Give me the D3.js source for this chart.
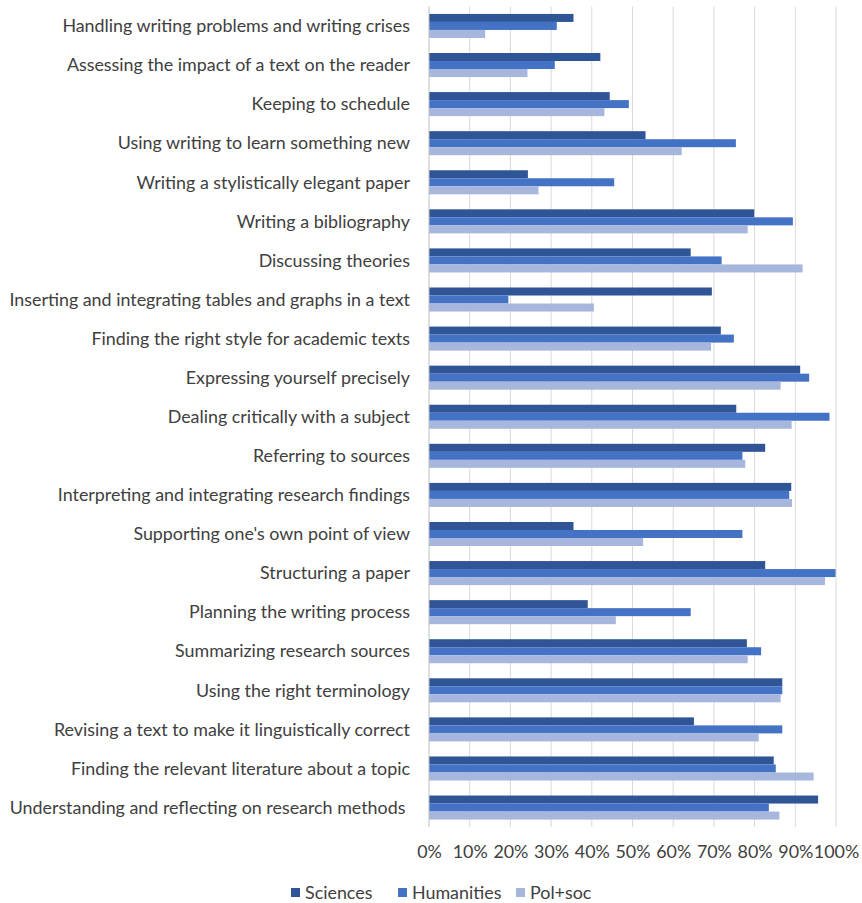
<!DOCTYPE html>
<html><head><meta charset="utf-8">
<script src="https://cdn.jsdelivr.net/npm/d3@7"></script>
<style>
body{margin:0;background:#fff;}
text{font-family:"Lato",sans-serif;}
</style></head>
<body><svg id="c" width="862" height="903"></svg>
<script>
const categories = [
"Handling writing problems and writing crises",
"Assessing the impact of a text on the reader",
"Keeping to schedule",
"Using writing to learn something new",
"Writing a stylistically elegant paper",
"Writing a bibliography",
"Discussing theories",
"Inserting and integrating tables and graphs in a text",
"Finding the right style for academic texts",
"Expressing yourself precisely",
"Dealing critically with a subject",
"Referring to sources",
"Interpreting and integrating research findings",
"Supporting one's own point of view",
"Structuring a paper",
"Planning the writing process",
"Summarizing research sources",
"Using the right terminology",
"Revising a text to make it linguistically correct",
"Finding the relevant literature about a topic",
"Understanding and reflecting on research methods "
];
const seriesNames = ["Sciences","Humanities","Pol+soc"];
const sciences   = [35.5,42.1,44.4,53.2,24.3,79.9,64.3,69.5,71.7,91.2,75.5,82.6,89.0,35.5,82.6,39.0,78.1,86.8,65.1,84.7,95.6];
const humanities = [31.4,30.9,49.1,75.4,45.5,89.4,71.9,19.5,74.9,93.4,98.4,77.0,88.5,77.0,99.9,64.3,81.6,86.8,86.8,85.2,83.5];
const polsoc     = [13.8,24.2,43.1,62.1,26.9,78.3,91.8,40.5,69.3,86.4,89.1,77.7,89.2,52.6,97.3,45.9,78.3,86.4,81.0,94.5,86.1];
const tickValues = [0,10,20,30,40,50,60,70,80,90,100];
const colors = ["#2F5597","#4472C4","#A7B6DD"];

const seriesVals = [sciences, humanities, polsoc];
const svg = d3.select("#c");
const pL = 429, pR = 836, pT = 6.5, pB = 827;

// find a font size so the first label spans ~348px like the reference
const probe = svg.append("text").attr("font-size",16).text(categories[0]);
const w16 = probe.node().getComputedTextLength();
probe.remove();
const fs = 16*348/w16;

const x = d3.scaleLinear().domain([0,100]).range([pL,pR]);
const y = d3.scaleBand().domain(categories).range([pT,pB]).paddingInner(0.385).paddingOuter(0.19);
const inner = d3.scaleBand().domain(seriesNames).range([0,y.bandwidth()]);

// gridlines
svg.append("g").selectAll("line").data(tickValues.slice(1)).join("line")
  .attr("x1",d=>x(d)).attr("x2",d=>x(d)).attr("y1",pT).attr("y2",pB)
  .attr("stroke","#D9D9D9").attr("stroke-width",1);

// bars
categories.forEach((c,i)=>{
  seriesNames.forEach((s,j)=>{
    svg.append("rect")
      .attr("x",x(0)).attr("y",y(c)+inner(s))
      .attr("width",x(seriesVals[j][i])-x(0)).attr("height",inner.bandwidth())
      .attr("fill",colors[j]);
  });
});

// category axis line
svg.append("line").attr("x1",pL).attr("x2",pL).attr("y1",pT).attr("y2",pB)
  .attr("stroke","#BFBFBF").attr("stroke-width",1);

// category labels
svg.append("g").selectAll("text").data(categories).join("text")
  .attr("x",410).attr("y",d=>y(d)+y.bandwidth()/2)
  .attr("dy","0.35em").attr("text-anchor","end")
  .attr("font-size",fs).attr("fill","#404040")
  .style("white-space","pre")
  .text(d=>d);

// x tick labels
const xAxis = d3.axisBottom(x).tickValues(tickValues).tickFormat(d=>d+"%").tickSize(0);
const ax = svg.append("g").attr("transform",`translate(0,${pB+15})`).call(xAxis);
ax.select(".domain").remove();
ax.selectAll("text").attr("font-size",fs).attr("fill","#404040").attr("font-family","Lato");

// legend
const legX = [291,398,516];
seriesNames.forEach((s,j)=>{
  svg.append("rect").attr("x",legX[j]).attr("y",888).attr("width",9).attr("height",9).attr("fill",colors[j]);
  svg.append("text").attr("x",legX[j]+14).attr("y",893).attr("dy","0.35em")
    .attr("font-size",fs).attr("fill","#404040").text(s);
});
</script></body></html>
